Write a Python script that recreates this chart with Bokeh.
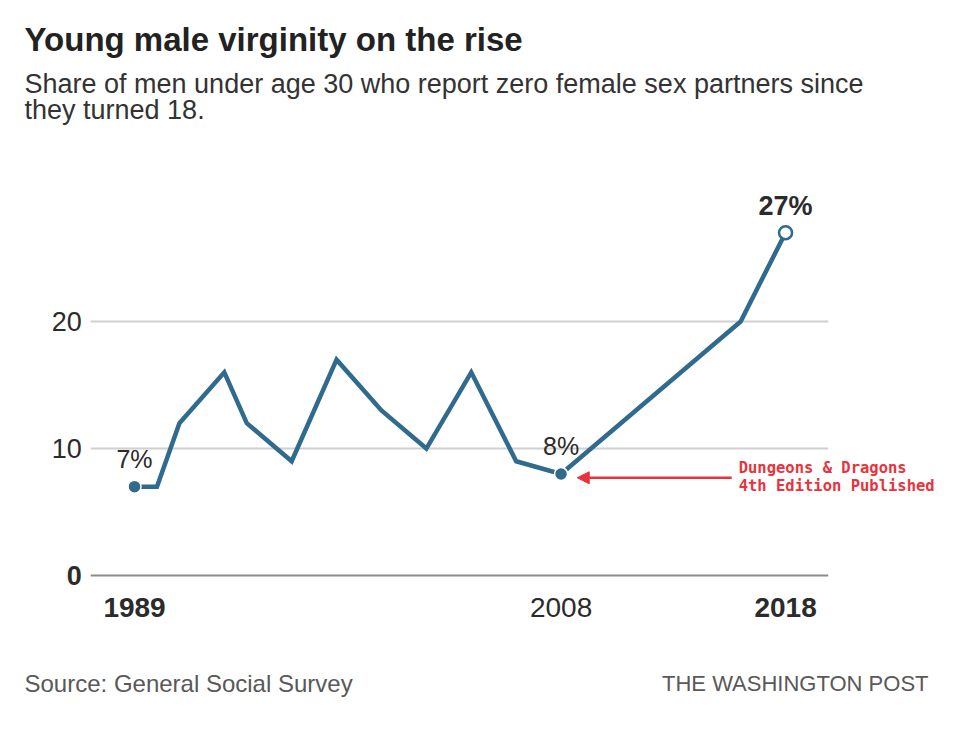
from bokeh.plotting import figure
from bokeh.models import Range1d, Label, Arrow, NormalHead
from bokeh.core.properties import value
from bokeh.embed import file_html
from bokeh.resources import INLINE

# ---- data ----
years = [1989, 1990, 1991, 1993, 1994, 1996, 1998, 2000, 2002, 2004, 2006, 2008, 2016, 2018]
share = [7, 7, 12, 16, 12, 9, 17, 13, 10, 16, 9, 8, 20, 27]

y_ticks_regular = [10, 20]
y_ticks_bold = [0]
x_ticks_bold = [1989, 2018]
x_ticks_regular = [2008]

title_text = "Young male virginity on the rise"
subtitle_lines = ["Share of men under age 30 who report zero female sex partners since",
                  "they turned 18."]
source_text = "Source: General Social Survey"
credit_text = "THE WASHINGTON POST"
note_lines = ["Dungeons & Dragons", "4th Edition Published"]

# ---- styles ----
LINE_C = "#306a8c"
TXT_C = "#2b2b2b"
FONT = "Liberation Sans, Arial"
W, H = 944, 715

p = figure(width=W, height=H, output_backend="svg", toolbar_location=None,
           x_range=Range1d(1983.03, 2025.08), y_range=Range1d(-11.02, 45.28),
           x_axis_location=None, y_axis_location=None, min_border=0,
           outline_line_color=None, background_fill_color="white")
p.grid.visible = False

gx0 = years[0] - 1.95
gx1 = years[-1] + 1.9

# gridlines
p.segment(x0=[gx0] * len(y_ticks_regular), x1=[gx1] * len(y_ticks_regular),
          y0=y_ticks_regular, y1=y_ticks_regular, line_color="#d0d0d0", line_width=2)
p.segment(x0=[gx0], x1=[gx1], y0=y_ticks_bold, y1=y_ticks_bold,
          line_color="#8a8a8a", line_width=2)

# y tick labels
p.text(x=[gx0] * len(y_ticks_regular), y=y_ticks_regular, text=[str(v) for v in y_ticks_regular],
       x_offset=-9, text_align="right", text_baseline="middle",
       text_font=value(FONT), text_font_size="27px", text_color=TXT_C)
p.text(x=[gx0], y=y_ticks_bold, text=[str(v) for v in y_ticks_bold],
       x_offset=-9, text_align="right", text_baseline="middle",
       text_font=value(FONT), text_font_size="27px", text_font_style="bold", text_color=TXT_C)

# x tick labels
p.text(x=x_ticks_bold, y=[0] * len(x_ticks_bold), text=[str(v) for v in x_ticks_bold],
       y_offset=32, text_align="center", text_baseline="middle",
       text_font=value(FONT), text_font_size="28px", text_font_style="bold", text_color=TXT_C)
p.text(x=x_ticks_regular, y=[0] * len(x_ticks_regular), text=[str(v) for v in x_ticks_regular],
       y_offset=32, text_align="center", text_baseline="middle",
       text_font=value(FONT), text_font_size="28px", text_color=TXT_C)

# the line
p.line(years, share, line_color=LINE_C, line_width=4.5, line_join="miter")

# markers
i08 = years.index(2008)
p.scatter([years[0], years[i08]], [share[0], share[i08]], size=13,
          fill_color=LINE_C, line_color="white", line_width=1.5)
p.scatter([years[-1]], [share[-1]], size=13, fill_color="white",
          line_color=LINE_C, line_width=2.5)

# value labels
p.text(x=[years[0], years[i08]], y=[share[0], share[i08]],
       text=[f"{share[0]}%", f"{share[i08]}%"], y_offset=-28,
       text_align="center", text_baseline="middle",
       text_font=value(FONT), text_font_size="25px", text_color=TXT_C)
p.text(x=[years[-1]], y=[share[-1]], text=[f"{share[-1]}%"], y_offset=-27,
       text_align="center", text_baseline="middle",
       text_font=value(FONT), text_font_size="27px", text_font_style="bold", text_color=TXT_C)

# annotation arrow + note
RED = "#e8333c"
ax_end = years[i08] + 0.72
ax_start = years[i08] + 7.6
ay = share[i08] - 0.3
p.add_layout(Arrow(end=NormalHead(size=12, fill_color=RED, line_color=RED),
                   x_start=ax_start, y_start=ay, x_end=ax_end, y_end=ay,
                   line_color=RED, line_width=2.5))
for k, ln in enumerate(note_lines):
    p.add_layout(Label(x=ax_start, y=ay, text=ln, x_offset=7, y_offset=10 - 18 * k,
                       text_baseline="middle", text_align="left",
                       text_font="DejaVu Sans Mono", text_font_size="15.5px",
                       text_font_style="bold", text_color=RED))

# titles (screen units, y from bottom)
p.add_layout(Label(x=24, y=H - 39, x_units="screen", y_units="screen", text=title_text,
                   text_font=FONT, text_font_size="33px", text_font_style="bold",
                   text_color="#222222", text_baseline="alphabetic"))
for k, ln in enumerate(subtitle_lines):
    p.add_layout(Label(x=24, y=H - 83 - 26 * k, x_units="screen", y_units="screen", text=ln,
                       text_font=FONT, text_font_size="27px",
                       text_color="#333333", text_baseline="alphabetic"))

p.add_layout(Label(x=24, y=H - 683, x_units="screen", y_units="screen", text=source_text,
                   text_font=FONT, text_font_size="24px", text_color="#595959",
                   text_baseline="middle"))
p.add_layout(Label(x=928, y=H - 683, x_units="screen", y_units="screen", text=credit_text,
                   text_font=FONT, text_font_size="22px", text_color="#595959",
                   text_baseline="middle", text_align="right"))

open("out.html", "w").write(file_html(p, INLINE))
